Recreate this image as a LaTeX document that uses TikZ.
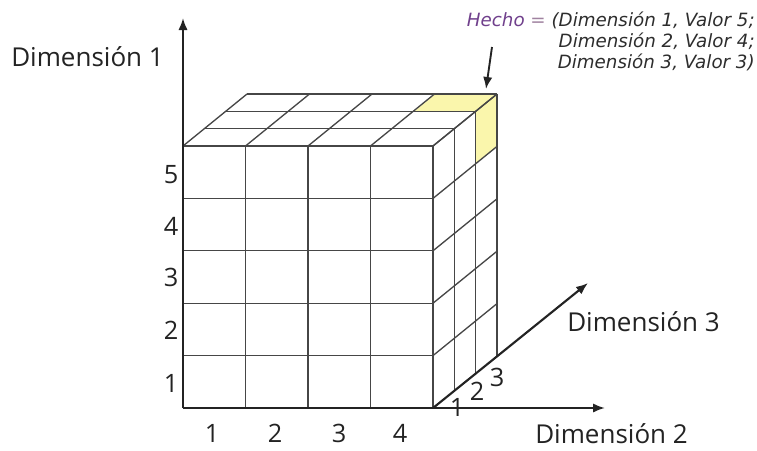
\documentclass[tikz,border=0pt]{standalone}
\usepackage{fontspec}
\setmainfont{Open Sans}
\newfontfamily\notefont{DejaVu Sans}
\usetikzlibrary{arrows.meta,calc}
\definecolor{gridc}{RGB}{70,70,70}
\definecolor{axisc}{RGB}{35,35,35}
\definecolor{factc}{RGB}{250,246,172}
\definecolor{hechoc}{RGB}{112,64,140}
\definecolor{eqc}{RGB}{160,130,160}
\definecolor{notec}{RGB}{45,45,45}

\begin{document}
\begin{tikzpicture}[x=0.75pt,y=-0.75pt,
    >={Latex[length=9pt,width=7pt]},
    cell/.style={draw=gridc,line width=1pt},
    axis/.style={->,draw=axisc,line width=1.6pt},
    lbl/.style={font=\fontsize{19.5}{22}\selectfont,text=axisc,inner sep=0pt},
    num/.style={font=\fontsize{19}{22}\selectfont,text=axisc,inner sep=0pt},
    note/.style={font=\notefont\itshape\fontsize{13.7}{15.75}\selectfont,text=notec,
                 align=right,inner sep=0pt},
  ]
  \useasboundingbox (0,0) rectangle (757,450);
  \coordinate (O) at (183,408);
  % highlighted fact: top and side of the back corner cell
  \fill[factc] (414.3,111.3) -- (475.7,111.3) -- (497,94) -- (435.5,94) -- cycle;
  \fill[factc] (475.7,111.3) -- (497,94) -- (497,146) -- (475.7,163.3) -- cycle;
  % front face
  \foreach \i in {1,...,4}
    \draw[cell] ({183+\i*62.5},408) -- ({183+\i*62.5},146);
  \foreach \j in {1,...,5}
    \draw[cell] (183,{408-\j*52.4}) -- (433,{408-\j*52.4});
  % top face
  \foreach \k in {1,...,3}
    \draw[cell] ({183+\k*21.33},{146-\k*17.33}) -- ({433+\k*21.33},{146-\k*17.33});
  \foreach \i in {0,...,4}
    \draw[cell] ({183+\i*62.5},146) -- ({247+\i*62.5},94);
  % side face
  \foreach \k in {1,...,3}
    \draw[cell] ({433+\k*21.33},{408-\k*17.33}) -- ({433+\k*21.33},{146-\k*17.33});
  \foreach \j in {1,...,5}
    \draw[cell] (433,{408-\j*52.4}) -- (497,{356-\j*52.4});
  % axes
  \coordinate (y1) at (183,18);
  \coordinate (x2) at (605,408);
  \coordinate (z3) at (588,283);
  \draw[axis] (O) -- (y1);
  \draw[axis] (O) -- (x2);
  \draw[axis] (433,408) -- (z3);
  \node[lbl,anchor=west] (dim1) at (11,57)  {Dimensión 1};
  \node[lbl,anchor=west] (dim2) at (535,434) {Dimensión 2};
  \node[lbl,anchor=west] (dim3) at (567,322) {Dimensión 3};
  % values
  \foreach \v/\yy in {1/383,2/330,3/277,4/226,5/175}
    \node[num] (v1\v) at (171,\yy) {\v};
  \foreach \v/\xx in {1/212,2/275,3/339,4/400}
    \node[num] (v2\v) at (\xx,433) {\v};
  \foreach \v/\xx/\yy in {1/457/407,2/477/391,3/497/377}
    \node[num] (v3\v) at (\xx,\yy) {\v};
  % the fact
  \node[note,anchor=north east] (hecho) at (755,12)
    {\textcolor{hechoc}{Hecho} \textcolor{eqc}{=} (Dimensión 1, Valor 5;\\
     Dimensión 2, Valor 4;\\ Dimensión 3, Valor 3)};
  \coordinate (from) at (492,47);
  \coordinate (fact) at (486,89);
  \draw[->,line width=1.4pt,axisc] (from) -- (fact);
\end{tikzpicture}
\end{document}
